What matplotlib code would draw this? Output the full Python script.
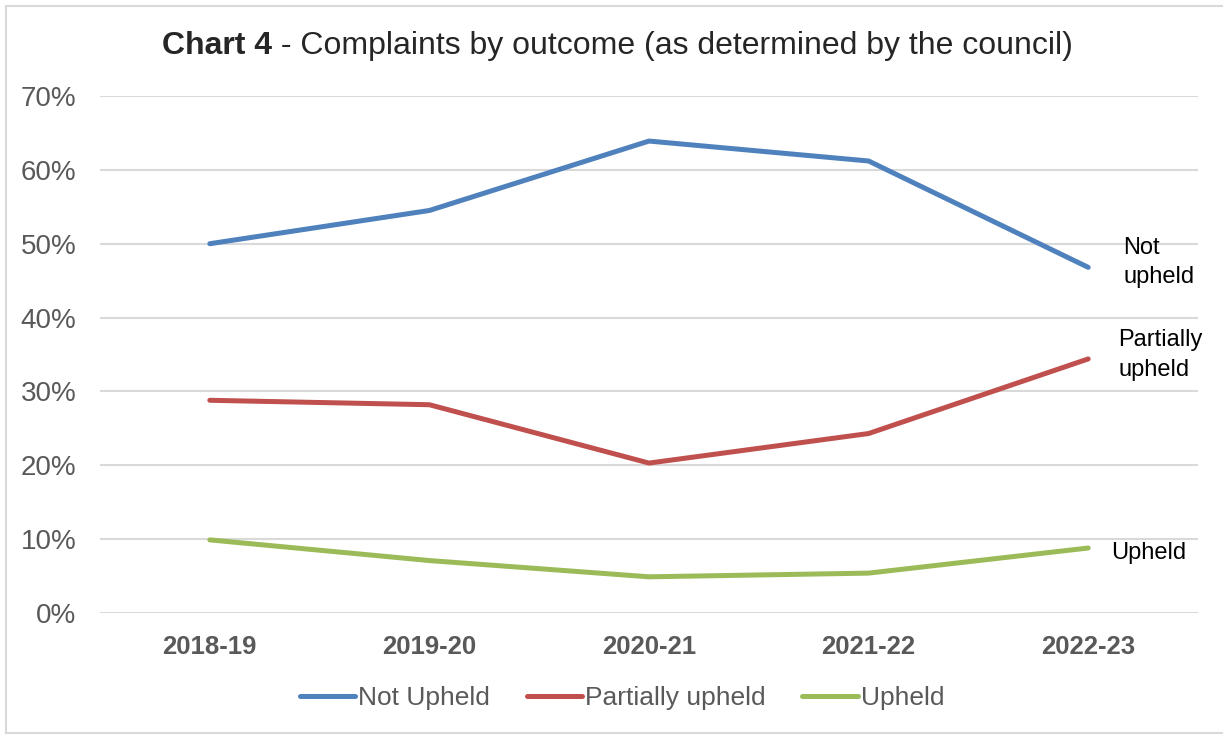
import matplotlib
matplotlib.use("Agg")
import matplotlib.pyplot as plt
from matplotlib.lines import Line2D

# Chart data (percent of complaints, by outcome)
years = ["2018-19", "2019-20", "2020-21", "2021-22", "2022-23"]
not_upheld = [50.0, 54.5, 63.9, 61.2, 46.8]
partially_upheld = [28.8, 28.2, 20.3, 24.3, 34.4]
upheld = [9.9, 7.1, 4.9, 5.4, 8.8]

blue = "#4F81BD"
red = "#C0504D"
green = "#9BBB59"
grey_text = "#595959"

plt.rcParams["font.family"] = ["Liberation Sans", "DejaVu Sans"]

W, H = 1223, 735
fig = plt.figure(figsize=(W / 100, H / 100), dpi=100)
ax = fig.add_axes([100 / W, 1 - 613 / H, (1198 - 100) / W, (613 - 96) / H])

x = list(range(len(years)))
ax.plot(x, not_upheld, color=blue, lw=3.6, solid_capstyle="round", label="Not Upheld")
ax.plot(x, partially_upheld, color=red, lw=3.6, solid_capstyle="round", label="Partially upheld")
ax.plot(x, upheld, color=green, lw=3.6, solid_capstyle="round", label="Upheld")

ax.set_xlim(-0.5, len(years) - 0.5)
ax.set_ylim(0, 70)
ax.set_yticks(range(0, 71, 10))
ax.set_yticklabels([f"{v}%" for v in range(0, 71, 10)], fontsize=20, color=grey_text)
ax.set_xticks(x)
ax.set_xticklabels(years, fontsize=18.5, fontweight="bold", color=grey_text)
ax.tick_params(length=0)
ax.tick_params(axis="x", pad=16)
ax.tick_params(axis="y", pad=17)
ax.grid(axis="y", color="#D9D9D9", lw=1.5)
ax.set_axisbelow(True)
for s in ax.spines.values():
    s.set_visible(False)

# end-of-line labels
last = len(years) - 1
ax.annotate("Not\nupheld", (last, not_upheld[-1]), xytext=(35, 5), textcoords="offset pixels",
            ha="left", va="center", fontsize=17, color="black", linespacing=1.45)
ax.annotate("Partially\nupheld", (last, partially_upheld[-1]), xytext=(30, 4), textcoords="offset pixels",
            ha="left", va="center", fontsize=17, color="black", linespacing=1.45)
ax.annotate("Upheld", (last, upheld[-1]), xytext=(23, -5), textcoords="offset pixels",
            ha="left", va="center", fontsize=17, color="black")

# title with bold lead
split = 272 / W
fig.text(split, 1 - 46 / H, "Chart 4", ha="right", va="center", fontsize=23,
         fontweight="bold", color="#262626")
fig.text(split, 1 - 46 / H, " - Complaints by outcome (as determined by the council)",
         ha="left", va="center", fontsize=23, color="#262626")

leg = fig.legend(loc="center", bbox_to_anchor=(622 / W, 1 - 698 / H), ncol=3, frameon=False,
                 fontsize=19, handlelength=2.1, handletextpad=0.1, columnspacing=1.4)
for t in leg.get_texts():
    t.set_color(grey_text)

# outer chart border
for xs, ys in [([6, 6], [6, 733]), ([6, 1223], [6, 6]), ([6, 1223], [733, 733])]:
    fig.add_artist(Line2D([v / W for v in xs], [1 - v / H for v in ys], color="#D9D9D9", lw=1.5))

fig.savefig("out.png", dpi=100)
